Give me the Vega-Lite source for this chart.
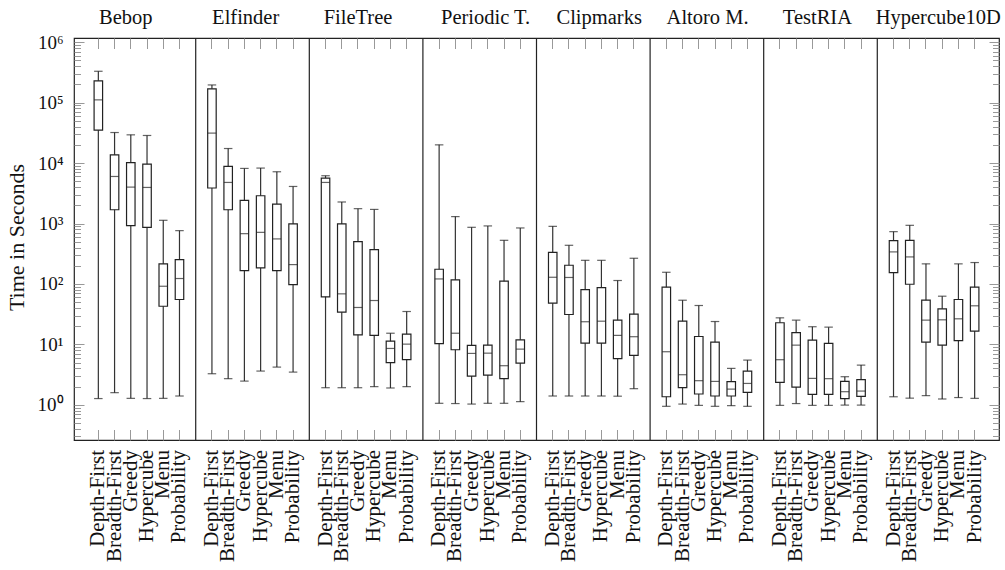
{
  "$schema": "https://vega.github.io/schema/vega-lite/v6.json",
  "autosize": "none",
  "padding": {"left": 74, "top": 38, "right": 6, "bottom": 130},
  "width": 925,
  "height": 402,
  "config": {"font": "'Liberation Serif', 'Times New Roman', serif", "view": {"stroke": "#222", "strokeWidth": 1.2}},
  "datasets": {
    "seps": [{"key": "sep1"}, {"key": "sep2"}, {"key": "sep3"}, {"key": "sep4"}, {"key": "sep5"}, {"key": "sep6"}, {"key": "sep7"}],
    "boxes": [
      {"key": "Bebop|Depth-First", "lo": 1.27, "q1": 35000, "med": 111000, "q3": 229000, "hi": 330000},
      {"key": "Bebop|Breadth-First", "lo": 1.59, "q1": 1690, "med": 6000, "q3": 13700, "hi": 32000},
      {"key": "Bebop|Greedy", "lo": 1.28, "q1": 921, "med": 4000, "q3": 10200, "hi": 29300},
      {"key": "Bebop|Hypercube", "lo": 1.27, "q1": 865, "med": 3950, "q3": 9600, "hi": 28600},
      {"key": "Bebop|Menu", "lo": 1.28, "q1": 42.8, "med": 91.6, "q3": 215, "hi": 1130},
      {"key": "Bebop|Probability", "lo": 1.4, "q1": 55.3, "med": 123, "q3": 253, "hi": 762},
      {"key": "Elfinder|Depth-First", "lo": 3.27, "q1": 3870, "med": 31300, "q3": 169000, "hi": 196000},
      {"key": "Elfinder|Breadth-First", "lo": 2.71, "q1": 1690, "med": 4780, "q3": 8800, "hi": 17400},
      {"key": "Elfinder|Greedy", "lo": 2.47, "q1": 166, "med": 679, "q3": 2410, "hi": 8150},
      {"key": "Elfinder|Hypercube", "lo": 3.62, "q1": 184, "med": 714, "q3": 2880, "hi": 8260},
      {"key": "Elfinder|Menu", "lo": 4.21, "q1": 166, "med": 556, "q3": 2100, "hi": 7180},
      {"key": "Elfinder|Probability", "lo": 3.48, "q1": 97.8, "med": 209, "q3": 984, "hi": 4100},
      {"key": "FileTree|Depth-First", "lo": 1.92, "q1": 61.2, "med": 4780, "q3": 5650, "hi": 6170},
      {"key": "FileTree|Breadth-First", "lo": 1.92, "q1": 34.1, "med": 68.6, "q3": 984, "hi": 2270},
      {"key": "FileTree|Greedy", "lo": 1.92, "q1": 14.4, "med": 40.8, "q3": 501, "hi": 1760},
      {"key": "FileTree|Hypercube", "lo": 2.0, "q1": 14.1, "med": 53.2, "q3": 370, "hi": 1710},
      {"key": "FileTree|Menu", "lo": 1.9, "q1": 4.98, "med": 8.57, "q3": 11.3, "hi": 15.3},
      {"key": "FileTree|Probability", "lo": 2.0, "q1": 5.58, "med": 10.1, "q3": 14.8, "hi": 35.0},
      {"key": "Periodic T.|Depth-First", "lo": 1.06, "q1": 10.3, "med": 121, "q3": 175, "hi": 20000},
      {"key": "Periodic T.|Breadth-First", "lo": 1.05, "q1": 8.15, "med": 15.3, "q3": 117, "hi": 1300},
      {"key": "Periodic T.|Greedy", "lo": 1.03, "q1": 2.99, "med": 7.09, "q3": 9.6, "hi": 865},
      {"key": "Periodic T.|Hypercube", "lo": 1.06, "q1": 3.11, "med": 7.16, "q3": 9.72, "hi": 912},
      {"key": "Periodic T.|Menu", "lo": 1.06, "q1": 2.71, "med": 4.44, "q3": 111, "hi": 527},
      {"key": "Periodic T.|Probability", "lo": 1.13, "q1": 4.9, "med": 8.35, "q3": 11.9, "hi": 844},
      {"key": "Clipmarks|Depth-First", "lo": 1.4, "q1": 48, "med": 129, "q3": 334, "hi": 897},
      {"key": "Clipmarks|Breadth-First", "lo": 1.4, "q1": 31.2, "med": 128, "q3": 204, "hi": 436},
      {"key": "Clipmarks|Greedy", "lo": 1.4, "q1": 10.5, "med": 23.7, "q3": 80.8, "hi": 246},
      {"key": "Clipmarks|Hypercube", "lo": 1.4, "q1": 10.5, "med": 24.2, "q3": 87.2, "hi": 246},
      {"key": "Clipmarks|Menu", "lo": 1.39, "q1": 5.8, "med": 14.1, "q3": 25.2, "hi": 114},
      {"key": "Clipmarks|Probability", "lo": 1.85, "q1": 6.57, "med": 13.4, "q3": 31.6, "hi": 266},
      {"key": "Altoro M.|Depth-First", "lo": 0.945, "q1": 1.36, "med": 7.56, "q3": 88.3, "hi": 156},
      {"key": "Altoro M.|Breadth-First", "lo": 1.03, "q1": 1.92, "med": 3.15, "q3": 24.2, "hi": 53.8},
      {"key": "Altoro M.|Greedy", "lo": 0.98, "q1": 1.51, "med": 2.51, "q3": 13.5, "hi": 44},
      {"key": "Altoro M.|Hypercube", "lo": 0.945, "q1": 1.4, "med": 2.44, "q3": 10.9, "hi": 23.9},
      {"key": "Altoro M.|Menu", "lo": 0.97, "q1": 1.4, "med": 1.82, "q3": 2.42, "hi": 4.01},
      {"key": "Altoro M.|Probability", "lo": 0.945, "q1": 1.61, "med": 2.26, "q3": 3.62, "hi": 5.5},
      {"key": "TestRIA|Depth-First", "lo": 0.98, "q1": 2.35, "med": 5.58, "q3": 22.8, "hi": 27.5},
      {"key": "TestRIA|Breadth-First", "lo": 1.05, "q1": 1.97, "med": 9.72, "q3": 15.7, "hi": 25.2},
      {"key": "TestRIA|Greedy", "lo": 0.98, "q1": 1.49, "med": 2.74, "q3": 11.8, "hi": 19.6},
      {"key": "TestRIA|Hypercube", "lo": 0.98, "q1": 1.49, "med": 2.71, "q3": 10.4, "hi": 19.3},
      {"key": "TestRIA|Menu", "lo": 0.99, "q1": 1.27, "med": 1.65, "q3": 2.44, "hi": 2.92},
      {"key": "TestRIA|Probability", "lo": 0.99, "q1": 1.38, "med": 1.69, "q3": 2.61, "hi": 4.54},
      {"key": "Hypercube10D|Depth-First", "lo": 1.36, "q1": 154, "med": 339, "q3": 521, "hi": 733},
      {"key": "Hypercube10D|Breadth-First", "lo": 1.29, "q1": 98.9, "med": 280, "q3": 527, "hi": 933},
      {"key": "Hypercube10D|Greedy", "lo": 1.42, "q1": 10.9, "med": 25.2, "q3": 53.8, "hi": 215},
      {"key": "Hypercube10D|Hypercube", "lo": 1.25, "q1": 9.72, "med": 25.5, "q3": 38.8, "hi": 62.7},
      {"key": "Hypercube10D|Menu", "lo": 1.32, "q1": 11.5, "med": 26.5, "q3": 55.3, "hi": 215},
      {"key": "Hypercube10D|Probability", "lo": 1.28, "q1": 16.6, "med": 43.5, "q3": 88.3, "hi": 226}
    ]
  },
  "resolve": {"axis": {"x": "independent", "y": "independent"}},
  "layer": [
    {
      "data": {"name": "seps"},
      "mark": {"type": "rule", "color": "#222", "strokeWidth": 1.2},
      "encoding": {
        "x": {
          "field": "key", "type": "nominal",
          "scale": {
            "domain": ["Bebop|Depth-First", "Bebop|Breadth-First", "Bebop|Greedy", "Bebop|Hypercube", "Bebop|Menu", "Bebop|Probability", "sep1",
              "Elfinder|Depth-First", "Elfinder|Breadth-First", "Elfinder|Greedy", "Elfinder|Hypercube", "Elfinder|Menu", "Elfinder|Probability", "sep2",
              "FileTree|Depth-First", "FileTree|Breadth-First", "FileTree|Greedy", "FileTree|Hypercube", "FileTree|Menu", "FileTree|Probability", "sep3",
              "Periodic T.|Depth-First", "Periodic T.|Breadth-First", "Periodic T.|Greedy", "Periodic T.|Hypercube", "Periodic T.|Menu", "Periodic T.|Probability", "sep4",
              "Clipmarks|Depth-First", "Clipmarks|Breadth-First", "Clipmarks|Greedy", "Clipmarks|Hypercube", "Clipmarks|Menu", "Clipmarks|Probability", "sep5",
              "Altoro M.|Depth-First", "Altoro M.|Breadth-First", "Altoro M.|Greedy", "Altoro M.|Hypercube", "Altoro M.|Menu", "Altoro M.|Probability", "sep6",
              "TestRIA|Depth-First", "TestRIA|Breadth-First", "TestRIA|Greedy", "TestRIA|Hypercube", "TestRIA|Menu", "TestRIA|Probability", "sep7",
              "Hypercube10D|Depth-First", "Hypercube10D|Breadth-First", "Hypercube10D|Greedy", "Hypercube10D|Hypercube", "Hypercube10D|Menu", "Hypercube10D|Probability"],
            "paddingInner": 0, "paddingOuter": 1.1, "align": 0.5
          },
          "axis": {
            "orient": "bottom",
            "values": ["Bebop|Depth-First", "Bebop|Breadth-First", "Bebop|Greedy", "Bebop|Hypercube", "Bebop|Menu", "Bebop|Probability",
              "Elfinder|Depth-First", "Elfinder|Breadth-First", "Elfinder|Greedy", "Elfinder|Hypercube", "Elfinder|Menu", "Elfinder|Probability",
              "FileTree|Depth-First", "FileTree|Breadth-First", "FileTree|Greedy", "FileTree|Hypercube", "FileTree|Menu", "FileTree|Probability",
              "Periodic T.|Depth-First", "Periodic T.|Breadth-First", "Periodic T.|Greedy", "Periodic T.|Hypercube", "Periodic T.|Menu", "Periodic T.|Probability",
              "Clipmarks|Depth-First", "Clipmarks|Breadth-First", "Clipmarks|Greedy", "Clipmarks|Hypercube", "Clipmarks|Menu", "Clipmarks|Probability",
              "Altoro M.|Depth-First", "Altoro M.|Breadth-First", "Altoro M.|Greedy", "Altoro M.|Hypercube", "Altoro M.|Menu", "Altoro M.|Probability",
              "TestRIA|Depth-First", "TestRIA|Breadth-First", "TestRIA|Greedy", "TestRIA|Hypercube", "TestRIA|Menu", "TestRIA|Probability",
              "Hypercube10D|Depth-First", "Hypercube10D|Breadth-First", "Hypercube10D|Greedy", "Hypercube10D|Hypercube", "Hypercube10D|Menu", "Hypercube10D|Probability"],
            "labelExpr": "split(datum.value, '|')[1]",
            "labelAngle": 270, "labelAlign": "right", "labelBaseline": "middle",
            "labelFontSize": 21, "labelColor": "#111",
            "labelPadding": 20, "labelOverlap": false, "labelBound": false,
            "tickSize": -10.5, "tickColor": "#999", "tickWidth": 1,
            "domain": false, "title": null
          }
        }
      }
    },
    {
      "data": {"name": "boxes"},
      "mark": {"type": "rule", "color": "#333", "strokeWidth": 1.2},
      "encoding": {
        "x": {
          "field": "key", "type": "nominal",
          "axis": {
            "orient": "top",
            "values": ["Bebop|Depth-First", "Bebop|Breadth-First", "Bebop|Greedy", "Bebop|Hypercube", "Bebop|Menu", "Bebop|Probability",
              "Elfinder|Depth-First", "Elfinder|Breadth-First", "Elfinder|Greedy", "Elfinder|Hypercube", "Elfinder|Menu", "Elfinder|Probability",
              "FileTree|Depth-First", "FileTree|Breadth-First", "FileTree|Greedy", "FileTree|Hypercube", "FileTree|Menu", "FileTree|Probability",
              "Periodic T.|Depth-First", "Periodic T.|Breadth-First", "Periodic T.|Greedy", "Periodic T.|Hypercube", "Periodic T.|Menu", "Periodic T.|Probability",
              "Clipmarks|Depth-First", "Clipmarks|Breadth-First", "Clipmarks|Greedy", "Clipmarks|Hypercube", "Clipmarks|Menu", "Clipmarks|Probability",
              "Altoro M.|Depth-First", "Altoro M.|Breadth-First", "Altoro M.|Greedy", "Altoro M.|Hypercube", "Altoro M.|Menu", "Altoro M.|Probability",
              "TestRIA|Depth-First", "TestRIA|Breadth-First", "TestRIA|Greedy", "TestRIA|Hypercube", "TestRIA|Menu", "TestRIA|Probability",
              "Hypercube10D|Depth-First", "Hypercube10D|Breadth-First", "Hypercube10D|Greedy", "Hypercube10D|Hypercube", "Hypercube10D|Menu", "Hypercube10D|Probability"],
            "labelExpr": "split(datum.value, '|')[1] == 'Greedy' ? split(datum.value, '|')[0] : ''",
            "labelAngle": 0, "labelAlign": "center", "labelBaseline": "alphabetic",
            "labelFontSize": 20.5, "labelColor": "#111",
            "labelPadding": 25, "labelOverlap": false, "labelBound": false,
            "labelOffset": {"expr": "({'Bebop|Greedy': -5, 'Elfinder|Greedy': 1.3, 'FileTree|Greedy': 0, 'Periodic T.|Greedy': 14, 'Clipmarks|Greedy': 14, 'Altoro M.|Greedy': 8.8, 'TestRIA|Greedy': 5, 'Hypercube10D|Greedy': 12.3})[datum.value] || 0"},
            "tickSize": -10.5, "tickColor": "#999", "tickWidth": 1,
            "domain": false, "title": null
          }
        },
        "y": {
          "field": "lo", "type": "quantitative",
          "scale": {"type": "log", "domain": [0.262, 1172000], "nice": false},
          "axis": {
            "orient": "left",
            "values": [0.3, 0.4, 0.5, 0.6, 0.7, 0.8, 0.9, 1, 2, 3, 4, 5, 6, 7, 8, 9, 10, 20, 30, 40, 50, 60, 70, 80, 90, 100, 200, 300, 400, 500, 600, 700, 800, 900, 1000, 2000, 3000, 4000, 5000, 6000, 7000, 8000, 9000, 10000, 20000, 30000, 40000, 50000, 60000, 70000, 80000, 90000, 100000, 200000, 300000, 400000, 500000, 600000, 700000, 800000, 900000, 1000000],
            "labelExpr": "indexof([1, 10, 100, 1000, 10000, 100000, 1000000], datum.value) >= 0 ? '10' + ['⁰', '¹', '²', '³', '⁴', '⁵', '⁶'][round(log(datum.value) / LN10)] : ''",
            "labelFontSize": 19, "labelColor": "#111",
            "labelPadding": 21, "labelOverlap": false, "labelBound": false,
            "tickSize": {"condition": {"test": "indexof([1, 10, 100, 1000, 10000, 100000, 1000000], datum.value) >= 0", "value": -10}, "value": -6.5},
            "tickColor": "#999", "tickWidth": 1,
            "domain": false, "grid": false,
            "title": "Time in Seconds", "titleFontSize": 22, "titleFontWeight": "normal", "titleColor": "#111",
            "titleX": -58, "titleY": 199, "titleAngle": 270, "titleAlign": "center", "titleBaseline": "middle"
          }
        },
        "y2": {"field": "hi"}
      }
    },
    {
      "data": {"name": "boxes"},
      "mark": {"type": "bar", "size": 8.5, "fill": "white", "stroke": "#222", "strokeWidth": 1.2},
      "encoding": {
        "x": {"field": "key", "type": "nominal", "axis": null},
        "y": {
          "field": "q1", "type": "quantitative",
          "axis": {
            "orient": "right",
            "values": [0.3, 0.4, 0.5, 0.6, 0.7, 0.8, 0.9, 1, 2, 3, 4, 5, 6, 7, 8, 9, 10, 20, 30, 40, 50, 60, 70, 80, 90, 100, 200, 300, 400, 500, 600, 700, 800, 900, 1000, 2000, 3000, 4000, 5000, 6000, 7000, 8000, 9000, 10000, 20000, 30000, 40000, 50000, 60000, 70000, 80000, 90000, 100000, 200000, 300000, 400000, 500000, 600000, 700000, 800000, 900000, 1000000],
            "labels": false,
            "tickSize": {"condition": {"test": "indexof([1, 10, 100, 1000, 10000, 100000, 1000000], datum.value) >= 0", "value": -10}, "value": -6.5},
            "tickColor": "#999", "tickWidth": 1,
            "domain": false, "grid": false, "title": null
          }
        },
        "y2": {"field": "q3"}
      }
    },
    {
      "data": {"name": "boxes"},
      "mark": {"type": "tick", "size": 8.5, "thickness": 1.2, "color": "#222"},
      "encoding": {
        "x": {"field": "key", "type": "nominal", "axis": null},
        "y": {"field": "med", "type": "quantitative", "axis": null}
      }
    },
    {
      "data": {"name": "boxes"},
      "mark": {"type": "tick", "size": 8.5, "thickness": 1.2, "color": "#222"},
      "encoding": {
        "x": {"field": "key", "type": "nominal", "axis": null},
        "y": {"field": "lo", "type": "quantitative", "axis": null}
      }
    },
    {
      "data": {"name": "boxes"},
      "mark": {"type": "tick", "size": 8.5, "thickness": 1.2, "color": "#222"},
      "encoding": {
        "x": {"field": "key", "type": "nominal", "axis": null},
        "y": {"field": "hi", "type": "quantitative", "axis": null}
      }
    }
  ]
}
